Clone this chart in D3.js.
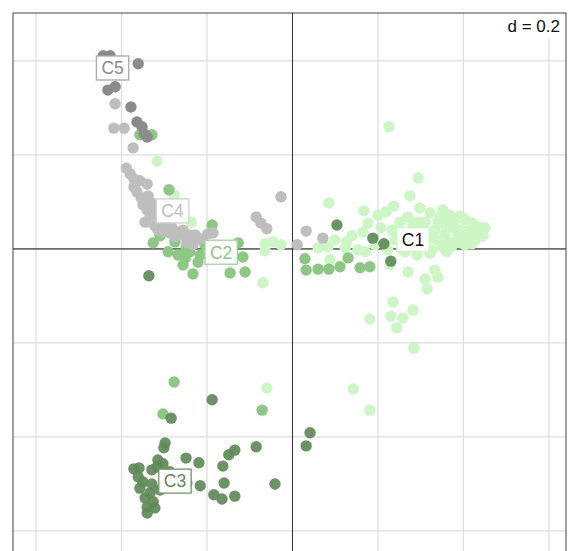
<!DOCTYPE html>
<html>
<head>
<meta charset="utf-8">
<script src="https://cdn.jsdelivr.net/npm/d3@7"></script>
<style>
  html, body { margin: 0; padding: 0; background: #fff; }
  svg { display: block; }
  text { font-family: "Liberation Sans", Arial, Helvetica, sans-serif; }
</style>
</head>
<body>
<svg id="chart" width="568" height="551"></svg>
<script>
// Class names and colours
const classNames = ["C1", "C2", "C3", "C4", "C5"];
const classColors = ["#ccf7c5", "#8cc883", "#5f8a58", "#bebebe", "#8b8b8b"];
const labelTextColors = ["#111111", "#8cc883", "#5f8a58", "#bdbdbd", "#8b8b8b"];
const labelBorderColors = ["#ccf7c5", "#9fd497", "#6f9968", "#cfcfcf", "#a8a8a8"];

// Factor scores (axis 1, axis 2) of the individuals, by class
const c1Points = [
  [-0.317, 0.187], [-0.237, 0.057], [-0.064, 0.011], [-0.046, 0.015], [-0.027, 0.009],
  [-0.064, -0.004], [-0.069, -0.072], [0.085, 0.098], [0.099, 0.019], [0.083, 0.004],
  [0.127, 0.015], [0.088, -0.023], [0.153, -0.002], [0.170, -0.006], [0.165, 0.036],
  [0.177, 0.055], [0.167, 0.081], [0.219, 0.079], [0.237, 0.091], [0.275, 0.113],
  [0.294, 0.151], [0.226, 0.260], [0.207, 0.045], [0.233, 0.040], [0.223, -0.002],
  [0.258, -0.002], [0.270, 0.015], [0.251, 0.057], [0.270, 0.068], [0.322, 0.077],
  [0.340, 0.057], [0.357, 0.051], [0.380, 0.062], [0.404, 0.062], [0.420, 0.055],
  [0.434, 0.047], [0.427, 0.034], [0.411, 0.023], [0.387, 0.026], [0.364, 0.015],
  [0.350, 0.004], [0.326, -0.002], [0.322, 0.023], [0.298, 0.036], [0.310, 0.057],
  [0.333, 0.040], [0.357, 0.034], [0.380, 0.045], [0.396, 0.040], [0.415, 0.040],
  [0.439, 0.038], [0.368, 0.072], [0.392, 0.070], [0.345, 0.068], [0.298, 0.009],
  [0.240, 0.019], [0.193, 0.009], [0.123, 0.002], [0.270, -0.049], [0.333, -0.045],
  [0.340, -0.060], [0.310, -0.064], [0.315, -0.085], [0.228, -0.034], [0.235, -0.113],
  [0.282, -0.130], [0.230, -0.143], [0.258, -0.147], [0.181, -0.149], [0.244, -0.168],
  [0.284, -0.211], [0.142, -0.298], [0.181, -0.343], [-0.060, -0.296], [0.322, -0.009],
  [0.361, -0.006], [0.404, 0.009], [0.427, 0.019], [0.450, 0.045], [0.282, 0.051],
  [0.200, 0.072], [0.139, 0.028], [0.060, 0.002], [-0.277, 0.115], [0.291, -0.013],
  [0.263, -0.006], [0.293, 0.057], [0.373, 0.006], [0.392, 0.013], [0.446, 0.028],
  [0.420, 0.011], [0.352, 0.083], [0.298, 0.087], [0.282, 0.030], [0.247, 0.036],
  [0.368, 0.049], [0.404, 0.030], [0.338, 0.019]
];
const c2Points = [
  [-0.357, 0.243], [-0.329, 0.243], [-0.289, 0.126], [-0.326, 0.013], [-0.291, -0.006],
  [-0.268, -0.013], [-0.240, -0.006], [-0.216, -0.013], [-0.256, -0.034], [-0.233, -0.053],
  [-0.221, -0.028], [-0.275, 0.015], [-0.251, -0.019], [-0.188, 0.051], [-0.127, 0.013],
  [-0.116, -0.017], [-0.111, -0.049], [-0.146, -0.051], [-0.303, -0.351], [-0.277, -0.283],
  [-0.071, -0.343], [0.029, -0.021], [0.032, -0.045], [0.060, -0.043], [0.085, -0.043],
  [0.111, -0.038], [0.130, -0.019], [0.158, -0.040], [0.181, -0.038], [-0.235, 0.028],
  [-0.205, 0.009], [-0.249, 0.002], [-0.310, 0.028]
];
const c3Points = [
  [-0.336, -0.057], [0.104, 0.051], [0.188, 0.023], [0.214, 0.011], [0.230, -0.026],
  [-0.188, -0.321], [-0.284, -0.360], [-0.298, -0.413], [-0.301, -0.423], [-0.315, -0.449],
  [-0.249, -0.445], [-0.219, -0.455], [-0.371, -0.468], [-0.361, -0.485], [-0.329, -0.470],
  [-0.350, -0.496], [-0.329, -0.500], [-0.357, -0.509], [-0.333, -0.519], [-0.345, -0.530],
  [-0.326, -0.538], [-0.340, -0.549], [-0.322, -0.551], [-0.340, -0.562], [-0.216, -0.504],
  [-0.247, -0.498], [-0.184, -0.523], [-0.165, -0.532], [-0.135, -0.526], [-0.163, -0.462],
  [-0.160, -0.498], [-0.149, -0.438], [-0.135, -0.428], [-0.085, -0.421], [-0.041, -0.500],
  [0.041, -0.391], [0.032, -0.419], [-0.303, -0.457], [-0.317, -0.464], [-0.359, -0.466],
  [-0.287, -0.474], [-0.310, -0.513]
];
const c4Points = [
  [-0.415, 0.309], [-0.418, 0.257], [-0.394, 0.257], [-0.373, 0.215], [-0.389, 0.172],
  [-0.380, 0.160], [-0.371, 0.149], [-0.357, 0.145], [-0.340, 0.138], [-0.371, 0.132],
  [-0.364, 0.121], [-0.354, 0.109], [-0.350, 0.094], [-0.340, 0.083], [-0.333, 0.070],
  [-0.345, 0.057], [-0.322, 0.049], [-0.315, 0.040], [-0.303, 0.036], [-0.287, 0.034],
  [-0.270, 0.036], [-0.256, 0.040], [-0.244, 0.030], [-0.228, 0.030], [-0.216, 0.021],
  [-0.198, 0.032], [-0.186, 0.034], [-0.322, 0.079], [-0.329, 0.098], [-0.294, 0.047],
  [-0.247, 0.013], [-0.233, 0.009], [-0.303, 0.051], [-0.282, 0.045], [-0.275, 0.026],
  [-0.251, 0.026], [-0.240, 0.013], [-0.085, 0.068], [-0.074, 0.055], [-0.060, 0.043],
  [-0.027, 0.111], [0.032, 0.038], [0.071, 0.023], [0.011, 0.009], [-0.310, 0.066],
  [-0.338, 0.113]
];
const c5Points = [
  [-0.443, 0.411], [-0.427, 0.411], [-0.361, 0.394], [-0.432, 0.338], [-0.415, 0.345],
  [-0.378, 0.302], [-0.364, 0.270], [-0.352, 0.260], [-0.340, 0.238], [-0.347, 0.245]
];

// Class centroids (label positions)
const labelX = [0.282, -0.167, -0.275, -0.281, -0.421];
const labelY = [0.020, -0.007, -0.494, 0.081, 0.385];

// Plot limits and grid spacing
const xLimits = [-0.654, 0.640];
const yLimits = [-0.648, 0.502];
const gridStep = 0.2;
const gridLabel = "d = 0.2";

const pointsByClass = [c1Points, c2Points, c3Points, c4Points, c5Points];

const W = 568, H = 551;
const svg = d3.select("#chart");

const x = d3.scaleLinear().domain(xLimits).range([13, 566]);
const y = d3.scaleLinear().domain(yLimits).range([13 + (yLimits[1] - yLimits[0]) * 470, 13]);

// grid lines at multiples of the grid step
const xGrid = d3.range(Math.ceil(xLimits[0] / gridStep), Math.floor(xLimits[1] / gridStep) + 1).map(k => k * gridStep);
const yGrid = d3.range(Math.ceil(yLimits[0] / gridStep), Math.floor(yLimits[1] / gridStep) + 1).map(k => k * gridStep);

const frameTop = y(yLimits[1]), frameBottom = y(yLimits[0]);
const frameLeft = x(xLimits[0]), frameRight = x(xLimits[1]);

svg.append("rect").attr("width", W).attr("height", H).attr("fill", "#fff");

const grid = svg.append("g");
grid.selectAll("line.v").data(xGrid).join("line")
  .attr("x1", d => x(d)).attr("x2", d => x(d))
  .attr("y1", frameTop).attr("y2", frameBottom)
  .attr("stroke", "#dedede").attr("stroke-width", 1.3);
grid.selectAll("line.h").data(yGrid).join("line")
  .attr("y1", d => y(d)).attr("y2", d => y(d))
  .attr("x1", frameLeft).attr("x2", frameRight)
  .attr("stroke", "#dedede").attr("stroke-width", 1.3);

// origin axes
svg.append("line")
  .attr("x1", frameLeft).attr("x2", frameRight)
  .attr("y1", y(0)).attr("y2", y(0))
  .attr("stroke", "#111").attr("stroke-width", 1);
svg.append("line")
  .attr("x1", x(0)).attr("x2", x(0))
  .attr("y1", frameTop).attr("y2", frameBottom)
  .attr("stroke", "#333").attr("stroke-width", 1);

// points, one layer per class
pointsByClass.forEach((pts, i) => {
  svg.append("g")
    .selectAll("circle").data(pts).join("circle")
    .attr("cx", d => x(d[0])).attr("cy", d => y(d[1]))
    .attr("r", 5.7)
    .attr("fill", classColors[i])
    .attr("fill-opacity", i === 2 ? 0.92 : 1);
});

// class labels in boxes at the centroids
const labels = svg.append("g");
classNames.forEach((name, i) => {
  const g = labels.append("g").attr("transform", `translate(${x(labelX[i])},${y(labelY[i])})`);
  const box = g.append("rect");
  const t = g.append("text")
    .attr("text-anchor", "middle")
    .attr("dy", "0.36em")
    .attr("font-size", 17.5)
    .attr("fill", labelTextColors[i])
    .text(name);
  const bb = t.node().getBBox();
  box.attr("x", bb.x - 5).attr("y", -12)
    .attr("width", bb.width + 10).attr("height", 24)
    .attr("fill", "#fff")
    .attr("stroke", labelBorderColors[i]).attr("stroke-width", 1.3);
});

// grid size label
const dg = svg.append("g");
const dbox = dg.append("rect");
const dt = dg.append("text")
  .attr("x", 560).attr("y", 32)
  .attr("text-anchor", "end")
  .attr("font-size", 17)
  .attr("fill", "#111")
  .text(gridLabel);
const dbb = dt.node().getBBox();
dbox.attr("x", dbb.x - 3).attr("y", frameTop + 1)
  .attr("width", dbb.width + 6).attr("height", dbb.y + dbb.height - frameTop + 2)
  .attr("fill", "#fff");

// frame
svg.append("rect")
  .attr("x", frameLeft).attr("y", frameTop)
  .attr("width", frameRight - frameLeft).attr("height", frameBottom - frameTop)
  .attr("fill", "none").attr("stroke", "#444").attr("stroke-width", 1);
</script>
</body>
</html>
